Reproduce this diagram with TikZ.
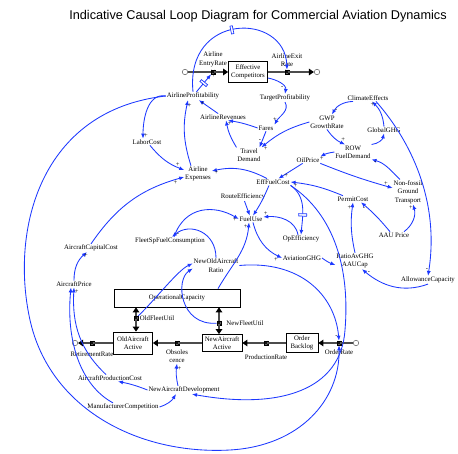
\documentclass[tikz,border=0pt]{standalone}
\usepackage{fontspec}
\setmainfont{Liberation Serif}
\newfontfamily\titlefont{Liberation Sans}
\usepackage{tikz}
\usetikzlibrary{arrows.meta, calc, positioning}
\definecolor{linkblue}{RGB}{28,56,255}
\tikzset{
    varnode/.style = {draw=none, fill=none, rectangle, inner sep=0.8pt, align=center,
      font=\fontsize{6.8}{8.4}\selectfont},
    stocknode/.style = {draw, rectangle, line width=0.7pt, inner sep=0pt, align=center,
      font=\fontsize{6.8}{8.4}\selectfont},
    valvenode/.style = {draw, rectangle, fill=black!60, minimum size=4pt, inner sep=0pt, line width=0.6pt,
      path picture={\draw[line width=0.7pt] (path picture bounding box.south west) -- (path picture bounding box.north east)
        (path picture bounding box.north west) -- (path picture bounding box.south east);}},
    cloudnode/.style = {draw=black!55, circle, minimum size=5.5pt, inner sep=0pt, line width=0.6pt},
    titlenode/.style = {font=\titlefont\fontsize{12.7}{15}\selectfont},
    pipe/.style = {draw=black!70, line width=2.4pt, -{Triangle[color=black, length=5pt, width=6.5pt]}},
    link/.style = {draw=linkblue, line width=0.85pt, -{Latex[length=5pt, width=4pt]}},
    signnode/.style = {font=\fontsize{6.5}{6.5}\selectfont, inner sep=0.6pt, text=black},
    delaynode/.style = {draw=linkblue, fill=white, sloped, allow upside down, rectangle, minimum width=2.4pt,
      minimum height=8pt, inner sep=0pt, line width=0.7pt}
}

\begin{document}
\begin{tikzpicture}[x=1pt, y=1pt, node distance=0pt]
\useasboundingbox (0,0) rectangle (458,-454);

\node [titlenode, name = title] at (258,-16) {Indicative Causal Loop Diagram for Commercial Aviation Dynamics};

\node [stocknode, name = comp, minimum width=39pt, minimum height=21pt] at (248,-72) {Effective\\Competitors};
\node [valvenode, name = entryrate, left of = comp, xshift=-35pt] {};
\node [valvenode, name = exitrate, right of = comp, xshift=39pt] {};
\node [cloudnode, name = cloudin, left of = entryrate, xshift=-28pt] {};
\node [cloudnode, name = cloudout, right of = exitrate, xshift=30pt] {};
\node [varnode, name = entrylbl, above of = entryrate, yshift=12.5pt] {Airline\\EntryRate};
\node [varnode, name = exitlbl, above of = exitrate, yshift=12pt] {AirlineExit\\Rate};

\node [varnode, name = targetprof] at (285,-98) {TargetProfitability};
\node [varnode, name = profit] at (193,-96) {AirlineProfitability};
\node [varnode, name = revenues] at (223,-117) {AirlineRevenues};
\node [varnode, name = laborcost] at (147,-142) {LaborCost};
\node [varnode, name = expenses] at (198,-174) {Airline\\Expenses};
\node [varnode, name = fares] at (266,-128) {Fares};
\node [varnode, name = travel] at (249,-155) {Travel\\Demand};
\node [varnode, name = gwp] at (327,-122) {GWP\\GrowthRate};
\node [varnode, name = climate] at (368,-98) {ClimateEffects};
\node [varnode, name = globalghg] at (384,-130) {GlobalGHG};
\node [varnode, name = rowfuel] at (353,-152) {ROW\\FuelDemand};
\node [varnode, name = oilprice] at (308,-160) {OilPrice};
\node [varnode, name = efffuel] at (273,-182) {EffFuelCost};
\node [varnode, name = nonfossil] at (408,-192) {Non-fossil\\Ground\\Transport};
\node [varnode, name = permit] at (353,-199) {PermitCost};
\node [varnode, name = aauprice] at (394,-235) {AAU Price};
\node [varnode, name = ratio] at (355,-261) {RatioAvGHG\\AAUCap};
\node [varnode, name = allowance] at (428,-280) {AllowanceCapacity};
\node [varnode, name = routeeff] at (243,-197) {RouteEfficiency};
\node [varnode, name = fueluse] at (251,-219) {FuelUse};
\node [varnode, name = opeff] at (301,-239) {OpEfficiency};
\node [varnode, name = fleetsp] at (170,-241) {FleetSpFuelConsumption};
\node [varnode, name = capcost] at (91,-248) {AircraftCapitalCost};
\node [varnode, name = acprice] at (74,-284) {AircraftPrice};
\node [varnode, name = newold] at (216,-265.5) {NewOldAircraft\\Ratio};
\node [varnode, name = aviationghg] at (302,-258) {AviationGHG};

\node [stocknode, name = opcap, minimum width=126pt, minimum height=18pt] at (177,-298) {OperationalCapacity};
\node [stocknode, name = oldac, minimum width=39pt, minimum height=22pt] at (133,-343) {OldAircraft\\Active};
\node [stocknode, name = newac, minimum width=40pt, minimum height=17pt] at (222,-343) {NewAircraft\\Active};
\node [stocknode, name = backlog, minimum width=32pt, minimum height=19pt] at (302,-343) {Order\\Backlog};
\node [valvenode, name = orderrate] at (339,-343) {};
\node [cloudnode, name = cloudorder, right of = orderrate, xshift=17pt] {};
\node [valvenode, name = prodrate] at (266,-343) {};
\node [valvenode, name = obsoles] at (177,-343) {};
\node [valvenode, name = retire] at (92,-343) {};
\node [cloudnode, name = cloudretire, left of = retire, xshift=-17pt] {};
\node [valvenode, name = oldutil] at (136,-318) {};
\node [valvenode, name = newutil] at (219,-323) {};
\node [varnode, name = orderlbl, below of = orderrate, yshift=-9pt] {OrderRate};
\node [varnode, name = prodlbl, below of = prodrate, yshift=-14pt] {ProductionRate};
\node [varnode, name = obsollbl, below of = obsoles, yshift=-13pt] {Obsoles\\cence};
\node [varnode, name = retirelbl, below of = retire, yshift=-11pt] {RetirementRate};
\node [varnode, name = oldutillbl, right of = oldutil, xshift=21pt] {OldFleetUtil};
\node [varnode, name = newutillbl, right of = newutil, xshift=26pt] {NewFleetUtil};
\node [varnode, name = prodcost] at (110,-378) {AircraftProductionCost};
\node [varnode, name = newdev] at (184,-390) {NewAircraftDevelopment};
\node [varnode, name = manucomp] at (123,-407) {ManufacturerCompetition};

\draw [pipe, -] (cloudin) -- (entryrate);
\draw [pipe] (entryrate) -- (comp);
\draw [pipe, -] (comp) -- (exitrate);
\draw [pipe] (exitrate) -- (cloudout);
\draw [pipe, -] (cloudorder) -- (orderrate);
\draw [pipe] (orderrate) -- (backlog);
\draw [pipe, -] (backlog) -- (prodrate);
\draw [pipe] (prodrate) -- (newac);
\draw [pipe, -] (newac) -- (obsoles);
\draw [pipe] (obsoles) -- (oldac);
\draw [pipe, -] (oldac) -- (retire);
\draw [pipe] (retire) -- (cloudretire);
\draw [pipe] (oldutil) -- (oldutil |- opcap.south);
\draw [pipe] (oldutil) -- (oldutil |- oldac.north);
\draw [pipe] (newutil) -- (newutil |- opcap.south);
\draw [pipe] (newutil) -- (newutil |- newac.north);

\draw [link] (profit) -- node [delaynode, pos=0.5] {} node [signnode, pos=0.9, right=1pt] {+} (entryrate);
\draw [link] (profit.north) .. controls (185,-12) and (285,-12) .. node [delaynode, pos=0.47] {}
    node [signnode, pos=0.97, left=1pt] {-} (exitrate.north);
\draw [link] ([yshift=-6pt]comp.east) to[out=-10, in=80] node [signnode, pos=0.75, left] {-} (targetprof.north);
\draw [link] (targetprof.south) to[out=-60, in=60] node [signnode, pos=0.8, left] {+} (fares.north east);
\draw [link] (fares.west) to[bend right=5] node [signnode, pos=0.95, below] {+} ([xshift=5pt]revenues.south);
\draw [link] (travel.north west) to[bend left=10] ([xshift=3pt]revenues.south);
\draw [link] (revenues) -- node [signnode, pos=0.97, below right] {+} (profit);
\draw [link] ([xshift=-7pt]expenses.north) to[bend left=15] node [signnode, pos=0.93, right] {+} ([xshift=-5pt]profit.south);
\draw [link] (profit.west) to[out=170, in=90] node [signnode, pos=0.95, right] {+} ([xshift=-4pt]laborcost.north);
\draw [link] ([xshift=3pt]laborcost.south) to[bend right=15] node [signnode, pos=0.85, above] {+} ([yshift=4pt]expenses.west);
\draw [link] (capcost.north) to[bend left=20] node [signnode, pos=0.93, below] {+} ([yshift=-3pt]expenses.west);
\draw [link] ([xshift=-6pt]efffuel.north) to[bend right=20] node [signnode, pos=0.93, below] {+} ([yshift=3pt]expenses.east);
\draw [link] (profit.west) .. controls (40,-110) and (10,-230) .. (30,-320)
    .. controls (50,-410) and (140,-455) .. (230,-450) .. controls (300,-446) and (340,-400) .. (orderrate.south);
\draw [link] (newold.east) .. controls (300,-260) and (335,-295) .. node [signnode, pos=0.97, left] {-} (orderrate.north);
\draw [link] (efffuel.south east) .. controls (335,-215) and (350,-270) .. (345,-330)
    .. controls (341,-390) and (280,-410) .. ([xshift=8pt]newdev.south);

\draw [link] ([xshift=2pt]fueluse.south) to[bend right=25] node [signnode, pos=0.93, below left] {+} (aviationghg.west);
\draw [link] (aviationghg.east) to[bend right=8] ([yshift=-4pt]ratio.west);
\draw [link] (ratio.north) to[bend left=10] node [signnode, pos=0.9, left] {+} (permit.south);
\draw [link] ([xshift=-4pt]aauprice.north) to[bend right=5] node [signnode, pos=0.85, below left] {-} ([xshift=8pt]permit.south);
\draw [link] ([xshift=10pt]aauprice.north) to[bend right=35] node [signnode, pos=0.9, left] {+} ([xshift=5pt]nonfossil.south);
\draw [link] ([xshift=-10pt]permit.north) to[bend right=8] node [signnode, pos=0.92, below] {+} (efffuel.east);
\draw [link] (oilprice) -- node [signnode, pos=0.8, right] {+} (efffuel);
\draw [link] (oilprice.south east) to[bend right=3] node [signnode, pos=0.92, above] {+} ([yshift=4pt]nonfossil.west);
\draw [link] ([xshift=-8pt]nonfossil.north) to[out=135, in=-15] node [signnode, pos=0.9, below] {-} (rowfuel.south east);
\draw [link] (rowfuel.west) to[bend right=10] node [signnode, pos=0.9, below] {+} (oilprice.north east);
\draw [link] (gwp.south) to[bend right=15] node [signnode, pos=0.8, above right] {+} ([xshift=-8pt]rowfuel.north);
\draw [link] (rowfuel.north east) to[bend right=35] (globalghg.south);
\draw [link] (globalghg.north) to[bend right=20] node [signnode, pos=0.85, left] {+} ([xshift=4pt]climate.south);
\draw [link] ([xshift=-15pt]climate.south) to[bend right=30] node [signnode, pos=0.85, right] {-} ([xshift=5pt]gwp.north);
\draw [link] (gwp.west) to[bend right=12] node [signnode, pos=0.97, below right] {+} (travel.north east);
\draw [link] (fares.south) to node [signnode, pos=0.6, left] {-} ([xshift=-2pt]travel.north east);
\draw [link] ([xshift=8pt]climate.south) .. controls (410,-140) and (440,-200) .. node [signnode, pos=0.97, left] {-} (allowance.north);
\draw [link] (allowance.south) to[out=200, in=-40] node [signnode, pos=0.92, right] {-} ([xshift=7pt]ratio.south);

\draw [link] (efffuel.south east) to[out=-35, in=85] node [delaynode, pos=0.65] {} (opeff.north);
\draw [link] ([xshift=-3pt]opeff.north) to[out=100, in=5] node [signnode, pos=0.95, above] {+} ([yshift=2pt]fueluse.east);
\draw [link] (routeeff) -- (fueluse);
\draw [link] ([xshift=-4pt]efffuel.south) to[bend left=5] ([xshift=2pt]fueluse.north);
\draw [link] ([xshift=4pt]fleetsp.north) .. controls (185,-205) and (215,-205) .. node [signnode, pos=0.95, below] {+} (fueluse.west);
\draw [link] (newold.north) .. controls (216,-232) and (190,-222) .. node [signnode, pos=0.93, right] {-} ([xshift=2pt]fleetsp.north);
\draw [link] ([xshift=41pt]opcap.north) to[out=60, in=-95] node [signnode, pos=0.95, left] {+} ([xshift=-2pt]fueluse.south);
\draw [link] (oldutil) .. controls (155,-300) and (178,-270) .. ([yshift=2pt]newold.west);
\draw [link] (newutil) .. controls (180,-326) and (175,-280) .. ([yshift=-3pt]newold.west);

\draw [link] (acprice.north) to[bend left=25] node [signnode, pos=0.85, right] {+} ([xshift=-4pt]capcost.south);
\draw [link] ([xshift=-4pt]prodcost.north) .. controls (80,-350) and (72,-325) .. node [signnode, pos=0.96, right] {+} (acprice.south);
\draw [link] ([xshift=-10pt]manucomp.north) .. controls (80,-385) and (66,-340) .. ([xshift=-3pt]acprice.south);
\draw [link] (newdev.west) to[bend right=5] ([xshift=8pt]prodcost.south);
\draw [link] (manucomp.east) to[bend right=20] ([xshift=-8pt]newdev.south);
\draw [link] ([xshift=-6pt]newdev.north) to[bend left=10] node [signnode, pos=0.8, right] {+} (obsollbl.south);

\end{tikzpicture}
\end{document}
